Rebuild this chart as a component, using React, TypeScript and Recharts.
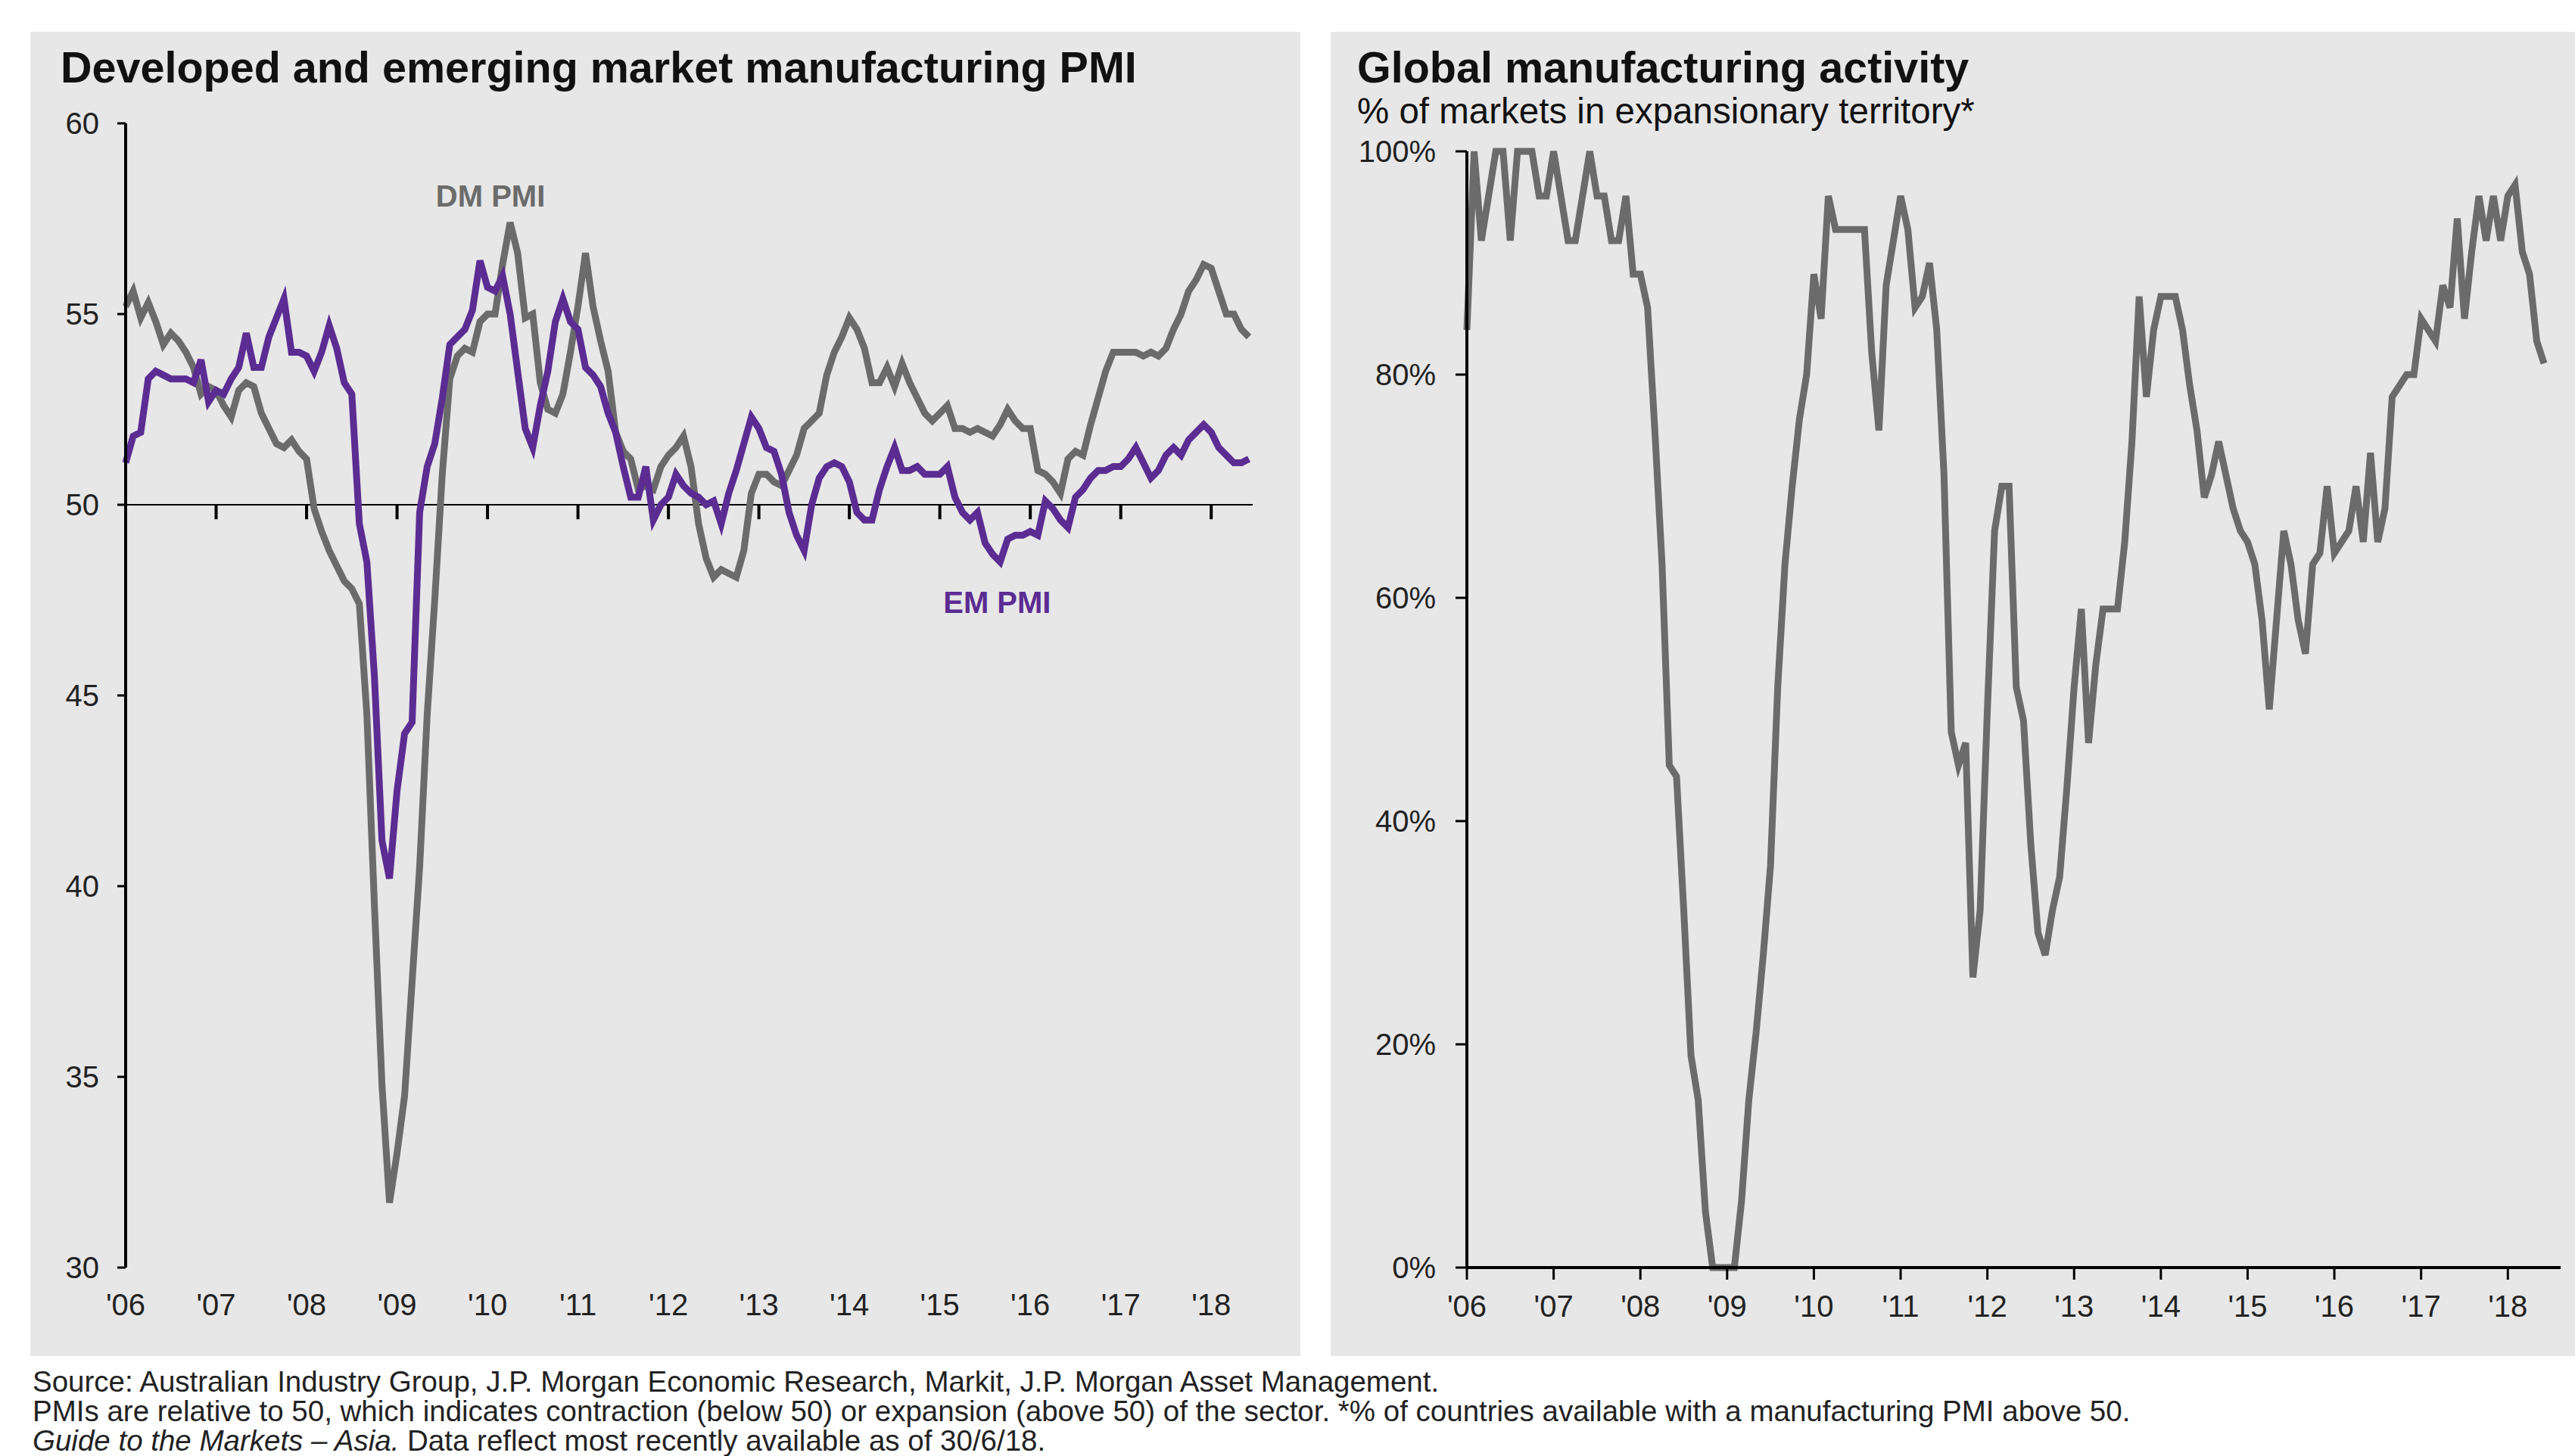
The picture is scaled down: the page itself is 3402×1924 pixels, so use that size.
import React from 'react'
import { LineChart, Line, XAxis, YAxis, ReferenceLine, ReferenceDot } from 'recharts'

const FONT = '"Liberation Sans", Arial, sans-serif'
const PANEL = '#e7e7e7'
const GREY = '#6b6b6b'
const PURPLE = '#5b2c92'

// x axis: one tick per January, month index 0 = Jan 2006
const yearLabels = ["'06", "'07", "'08", "'09", "'10", "'11", "'12", "'13", "'14", "'15", "'16", "'17", "'18"]
const yearTicks = yearLabels.map((_, i) => i * 12)

// DM manufacturing PMI, monthly Jan 2006 - Jun 2018
const dmPmi = [
  55.2, 55.6, 54.9, 55.3, 54.8, 54.2, 54.5, 54.3, 54.0, 53.6, 52.9, 53.1,
  53.0, 52.6, 52.3, 53.0, 53.2, 53.1, 52.4, 52.0, 51.6, 51.5, 51.7, 51.4,
  51.2, 49.9, 49.3, 48.8, 48.4, 48.0, 47.8, 47.4, 44.5, 39.5, 34.8, 31.7,
  33.0, 34.5, 37.5, 40.5, 44.5, 47.5, 50.8, 53.3, 53.9, 54.1, 54.0, 54.8,
  55.0, 55.0, 56.3, 57.4, 56.6, 54.9, 55.0, 53.2, 52.5, 52.4, 52.9, 54.0,
  55.2, 56.6, 55.2, 54.3, 53.5, 51.9, 51.4, 51.2, 50.4, 50.5, 50.4, 51.0,
  51.3, 51.5, 51.8, 51.0, 49.5, 48.6, 48.1, 48.3, 48.2, 48.1, 48.8, 50.3,
  50.8, 50.8, 50.6, 50.5, 50.9, 51.3, 52.0, 52.2, 52.4, 53.4, 54.0, 54.4,
  54.9, 54.6, 54.1, 53.2, 53.2, 53.6, 53.1, 53.7, 53.2, 52.8, 52.4, 52.2,
  52.4, 52.6, 52.0, 52.0, 51.9, 52.0, 51.9, 51.8, 52.1, 52.5, 52.2, 52.0,
  52.0, 50.9, 50.8, 50.6, 50.3, 51.2, 51.4, 51.3, 52.1, 52.8, 53.5, 54.0,
  54.0, 54.0, 54.0, 53.9, 54.0, 53.9, 54.1, 54.6, 55.0, 55.6, 55.9, 56.3,
  56.2, 55.6, 55.0, 55.0, 54.6, 54.4,
]

// EM manufacturing PMI, monthly Jan 2006 - Jun 2018
const emPmi = [
  51.1, 51.8, 51.9, 53.3, 53.5, 53.4, 53.3, 53.3, 53.3, 53.2, 53.8, 52.7,
  53.0, 52.9, 53.3, 53.6, 54.5, 53.6, 53.6, 54.4, 54.9, 55.4, 54.0, 54.0,
  53.9, 53.5, 54.0, 54.7, 54.1, 53.2, 52.9, 49.5, 48.5, 45.5, 41.2, 40.2,
  42.5, 44.0, 44.3, 49.8, 51.0, 51.6, 52.8, 54.2, 54.4, 54.6, 55.1, 56.4,
  55.7, 55.6, 56.0, 55.0, 53.5, 52.0, 51.5, 52.6, 53.5, 54.8, 55.4, 54.8,
  54.6, 53.6, 53.4, 53.1, 52.4, 51.9, 51.0, 50.2, 50.2, 51.0, 49.6, 50.0,
  50.2, 50.8, 50.5, 50.3, 50.2, 50.0, 50.1, 49.5, 50.3, 50.9, 51.6, 52.3,
  52.0, 51.5, 51.4, 50.8, 49.8, 49.2, 48.8, 50.0, 50.7, 51.0, 51.1, 51.0,
  50.6, 49.8, 49.6, 49.6, 50.4, 51.0, 51.5, 50.9, 50.9, 51.0, 50.8, 50.8,
  50.8, 51.0, 50.2, 49.8, 49.6, 49.8, 49.0, 48.7, 48.5, 49.1, 49.2, 49.2,
  49.3, 49.2, 50.1, 49.9, 49.6, 49.4, 50.2, 50.4, 50.7, 50.9, 50.9, 51.0,
  51.0, 51.2, 51.5, 51.1, 50.7, 50.9, 51.3, 51.5, 51.3, 51.7, 51.9, 52.1,
  51.9, 51.5, 51.3, 51.1, 51.1, 51.2,
]

// % of markets with manufacturing PMI above 50
const expansionShare = [
  84, 100, 92, 96, 100, 100, 92, 100, 100, 100, 96, 96,
  100, 96, 92, 92, 96, 100, 96, 96, 92, 92, 96, 89,
  89, 86, 75, 63, 45, 44, 32, 19, 15, 5, 0, 0,
  0, 0, 6, 15, 21, 28, 36, 52, 63, 70, 76, 80,
  89, 85, 96, 93, 93, 93, 93, 93, 82, 75, 88, 92,
  96, 93, 86, 87, 90, 84, 71, 48, 45, 47, 26, 32,
  50, 66, 70, 70, 52, 49, 38, 30, 28, 32, 35, 43,
  52, 59, 47, 54, 59, 59, 59, 65, 74, 87, 78, 84,
  87, 87, 87, 84, 79, 75, 69, 71, 74, 71, 68, 66,
  65, 63, 58, 50, 58, 66, 63, 58, 55, 63, 64, 70,
  64, 65, 66, 70, 65, 73, 65, 68, 78, 79, 80, 80,
  85, 84, 83, 88, 86, 94, 85, 91, 96, 92, 96, 92,
  96, 97, 91, 89, 83, 81,
]

const pmiTicks = [30, 35, 40, 45, 50, 55, 60]
const shareTicks = [0, 20, 40, 60, 80, 100]

const pmiData = dmPmi.map((dm, m) => ({ m, dm, em: emPmi[m] }))
const shareData = expansionShare.map((v, m) => ({ m, v }))

const yearFmt = (v: number) => yearLabels[Math.round(v / 12)]
const tickStyle = { fontSize: 40, fill: '#222', fontFamily: FONT }

function PmiChart() {
  return (
    <LineChart width={1678} height={1733} data={pmiData} margin={{ top: 121, right: 63, bottom: 0, left: 0 }}>
      <XAxis
        type="number" dataKey="m" domain={[0, 149.5]} ticks={yearTicks} interval={0}
        tickFormatter={yearFmt} axisLine={false} tickLine={false} tickSize={6} tickMargin={29}
        height={100} tick={tickStyle}
      />
      <YAxis
        domain={[30, 60]} ticks={pmiTicks} interval={0} width={126}
        axisLine={{ stroke: '#000', strokeWidth: 4 }} tickLine={{ stroke: '#000', strokeWidth: 3 }}
        tickSize={11} tickMargin={24} tick={tickStyle}
      />
      <ReferenceLine y={50} stroke="#000" strokeWidth={2} />
      {yearTicks.slice(1).map(t => (
        <ReferenceLine key={t} segment={[{ x: t, y: 50 }, { x: t, y: 49.62 }]} stroke="#000" strokeWidth={4} />
      ))}
      <Line type="linear" dataKey="dm" stroke={GREY} strokeWidth={9} dot={false} isAnimationActive={false} />
      <Line type="linear" dataKey="em" stroke={PURPLE} strokeWidth={9} dot={false} isAnimationActive={false} />
      <ReferenceDot x={48.4} y={58.1} r={0} stroke="none"
        label={{ value: 'DM PMI', position: 'center', fill: GREY, fontSize: 40, fontWeight: 700, fontFamily: FONT }} />
      <ReferenceDot x={115.6} y={47.45} r={0} stroke="none"
        label={{ value: 'EM PMI', position: 'center', fill: PURPLE, fontSize: 40, fontWeight: 700, fontFamily: FONT }} />
    </LineChart>
  )
}

function ShareChart() {
  return (
    <LineChart width={1644} height={1733} data={shareData} margin={{ top: 158, right: 19, bottom: 0, left: 0 }}>
      <XAxis
        type="number" dataKey="m" domain={[0, 151.3]} ticks={yearTicks} interval={0}
        tickFormatter={yearFmt} axisLine={{ stroke: '#000', strokeWidth: 4 }}
        tickLine={{ stroke: '#000', strokeWidth: 3 }} tickSize={16} tickMargin={21}
        height={100} tick={tickStyle}
      />
      <YAxis
        domain={[0, 100]} ticks={shareTicks} interval={0} width={180}
        tickFormatter={(v: number) => `${v}%`}
        axisLine={{ stroke: '#000', strokeWidth: 4 }} tickLine={{ stroke: '#000', strokeWidth: 3 }}
        tickSize={15} tickMargin={26} tick={tickStyle}
      />
      <Line type="linear" dataKey="v" stroke={GREY} strokeWidth={9} dot={false} isAnimationActive={false} />
    </LineChart>
  )
}

export default function App() {
  return (
    <div style={{ position: 'absolute', left: 0, top: 0, width: 3402, height: 1924, overflow: 'hidden', background: '#fff', fontFamily: FONT, color: '#111' }}>
      <div style={{ position: 'absolute', left: 40, top: 42, width: 1678, height: 1750, background: PANEL }}>
        <div style={{ position: 'absolute', left: 0, top: 0 }}><PmiChart /></div>
      </div>
      <div style={{ position: 'absolute', left: 1758, top: 42, width: 1644, height: 1750, background: PANEL }}>
        <div style={{ position: 'absolute', left: 0, top: 0 }}><ShareChart /></div>
      </div>

      <div style={{ position: 'absolute', left: 80, top: 61, fontSize: 57.5, lineHeight: '57px', fontWeight: 700, whiteSpace: 'nowrap' }}>
        Developed and emerging market manufacturing PMI
      </div>
      <div style={{ position: 'absolute', left: 1793, top: 61, fontSize: 57.5, lineHeight: '57px', fontWeight: 700, whiteSpace: 'nowrap' }}>
        Global manufacturing activity
      </div>
      <div style={{ position: 'absolute', left: 1793, top: 123, fontSize: 47.5, lineHeight: '47px', whiteSpace: 'nowrap' }}>
        % of markets in expansionary territory*
      </div>

      <div style={{ position: 'absolute', left: 43, top: 1806, fontSize: 38.5, lineHeight: '39px', whiteSpace: 'nowrap', color: '#222' }}>
        <div>Source: Australian Industry Group, J.P. Morgan Economic Research, Markit, J.P. Morgan Asset Management.</div>
        <div>PMIs are relative to 50, which indicates contraction (below 50) or expansion (above 50) of the sector. *% of countries available with a manufacturing PMI above 50.</div>
        <div><i>Guide to the Markets – Asia.</i> Data reflect most recently available as of 30/6/18.</div>
      </div>
    </div>
  )
}
